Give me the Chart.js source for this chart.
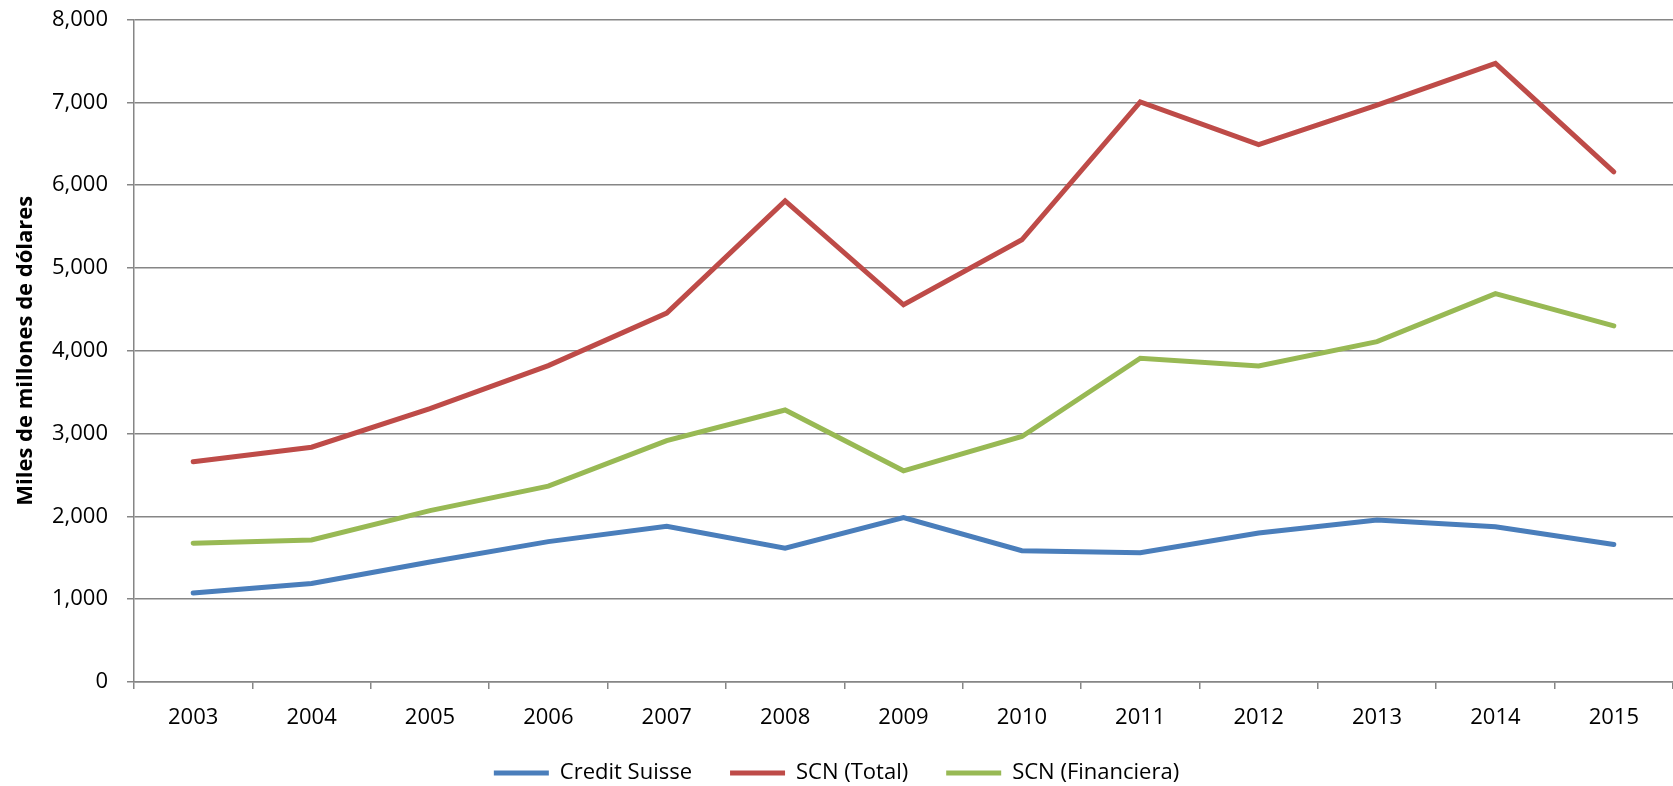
<!DOCTYPE html>
<html>
<head>
<meta charset="utf-8">
<script src="https://cdn.jsdelivr.net/npm/chart.js@4/dist/chart.umd.min.js"></script>
<style>
  html, body { margin: 0; padding: 0; background: #ffffff; }
  #wrap { width: 1673px; height: 786px; }
</style>
</head>
<body>
<div id="wrap"><canvas id="c" width="1673" height="786"></canvas></div>
<script>
const years = ['2003','2004','2005','2006','2007','2008','2009','2010','2011','2012','2013','2014','2015'];
const creditSuisse = [1075, 1190, 1450, 1695, 1880, 1615, 1985, 1585, 1560, 1800, 1955, 1875, 1660];
const scnTotal = [2660, 2835, 3300, 3820, 4455, 5810, 4555, 5340, 7005, 6490, 6965, 7470, 6160];
const scnFinanciera = [1675, 1715, 2070, 2365, 2915, 3285, 2550, 2965, 3910, 3815, 4110, 4690, 4300];
const seriesNames = ['Credit Suisse', 'SCN (Total)', 'SCN (Financiera)'];
const yTicks = [0, 1000, 2000, 3000, 4000, 5000, 6000, 7000, 8000];
const yTitle = 'Miles de millones de dólares';

const colors = ['#4A7EBB', '#BE4B48', '#98B954'];
const gridColor = '#868686';
const FONT = "'Open Sans', 'Noto Sans', sans-serif";

function ds(label, data, color) {
  return {
    label, data,
    borderColor: color, backgroundColor: color,
    borderWidth: 5, pointRadius: 0, pointHoverRadius: 0,
    tension: 0, fill: false,
    borderCapStyle: 'round', borderJoinStyle: 'miter'
  };
}

new Chart(document.getElementById('c'), {
  type: 'line',
  data: {
    labels: years,
    datasets: [
      ds(seriesNames[0], creditSuisse, colors[0]),
      ds(seriesNames[1], scnTotal, colors[1]),
      ds(seriesNames[2], scnFinanciera, colors[2])
    ]
  },
  options: {
    responsive: false,
    animation: false,
    events: [],
    layout: { padding: { top: 19.5, right: 0, bottom: -8, left: 0 } },
    plugins: {
      tooltip: { enabled: false },
      legend: {
        position: 'bottom',
        labels: {
          usePointStyle: true,
          pointStyle: 'line',
          pointStyleWidth: 55,
          padding: 38,
          color: '#000',
          font: { family: FONT, size: 22 }
        }
      }
    },
    scales: {
      x: {
        type: 'category',
        offset: true,
        grid: {
          offset: true,
          drawOnChartArea: false,
          drawTicks: true,
          tickLength: 7,
          color: gridColor,
          lineWidth: 1.5
        },
        border: { display: true, color: gridColor, width: 1.5 },
        ticks: {
          color: '#000',
          padding: 16,
          maxRotation: 0,
          autoSkip: false,
          font: { family: FONT, size: 22 }
        },
        afterFit: (s) => { s.height = 42; }
      },
      y: {
        min: 0,
        max: 8000,
        afterBuildTicks: (s) => { s.ticks = yTicks.map(v => ({ value: v })); },
        grid: {
          color: gridColor,
          lineWidth: 1.5,
          tickLength: 7,
          drawTicks: true
        },
        border: { display: true, color: gridColor, width: 1.5 },
        ticks: {
          color: '#000',
          padding: 19,
          font: { family: FONT, size: 22 },
          callback: (v) => Number(v).toLocaleString('en-US')
        },
        title: {
          display: true,
          text: yTitle,
          color: '#000',
          padding: { top: 13, bottom: 0 },
          font: { family: FONT, size: 22, weight: 'bold' }
        },
        afterFit: (s) => { s.width = 134; s.paddingTop = 0; }
      }
    }
  }
});
</script>
</body>
</html>
